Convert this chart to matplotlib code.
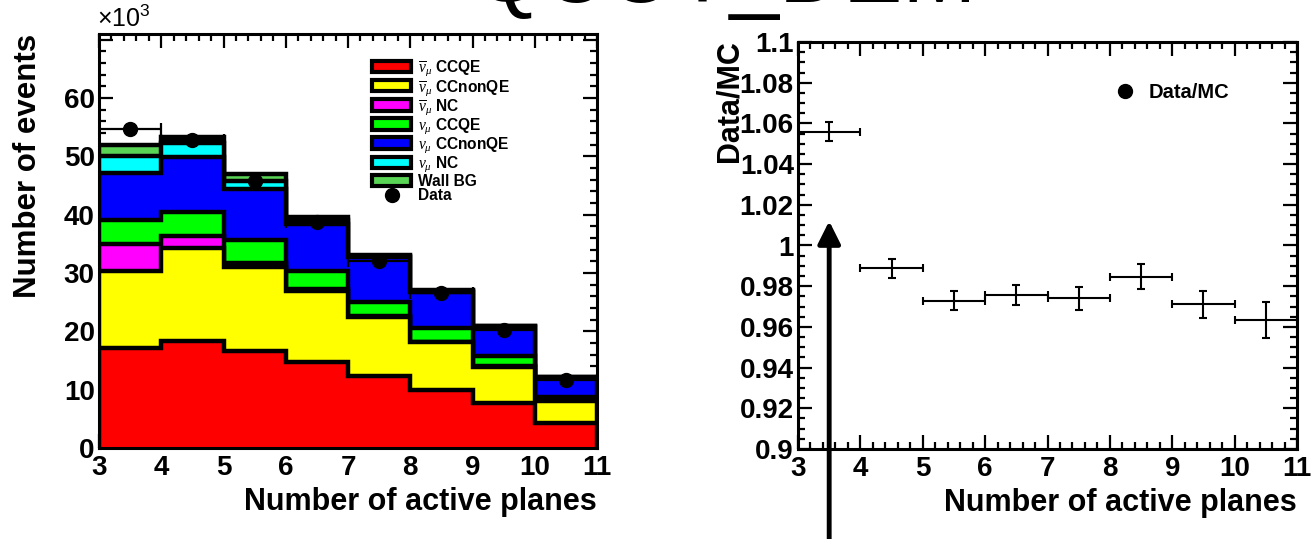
import numpy as np
import matplotlib
matplotlib.use("Agg")
import matplotlib.pyplot as plt
from matplotlib.patches import Patch
from matplotlib.lines import Line2D
from matplotlib.ticker import MultipleLocator, FixedLocator, FixedFormatter

plt.rcParams['font.family'] = ['Liberation Sans', 'DejaVu Sans']
plt.rcParams['mathtext.fontset'] = 'custom'
plt.rcParams['mathtext.rm'] = 'Liberation Sans'
plt.rcParams['mathtext.it'] = 'Liberation Serif:italic'
plt.rcParams['mathtext.bf'] = 'Liberation Sans:bold'

# ---------------- data ----------------
edges = [3, 4, 5, 6, 7, 8, 9, 10, 11]
centers = [3.5, 4.5, 5.5, 6.5, 7.5, 8.5, 9.5, 10.5]

# components in units of 10^3 events (stack order bottom -> top)
antinumu_ccqe = [17.2, 18.4, 16.7, 14.8, 12.35, 9.95, 7.65, 4.35]
antinumu_ccnonqe = [13.2, 15.9, 14.4, 12.2, 10.05, 8.15, 6.25, 3.65]
antinumu_nc = [4.6, 2.1, 0.7, 0.2, 0.2, 0.1, 0.1, 0.1]
numu_ccqe = [4.1, 4.1, 3.9, 3.2, 2.5, 2.4, 1.7, 0.7]
numu_ccnonqe = [8.1, 9.4, 8.8, 8.0, 7.7, 6.2, 5.0, 3.2]
numu_nc = [2.8, 2.4, 1.3, 0.7, 0.2, 0.2, 0.2, 0.1]
wall_bg = [1.9, 1.1, 1.2, 0.6, 0.1, 0.1, 0.1, 0.1]

data_counts = [54.7, 52.8, 45.8, 38.8, 32.1, 26.6, 20.2, 11.7]

ratio = [1.056, 0.9887, 0.9729, 0.9758, 0.9740, 0.9847, 0.9711, 0.9634]
ratio_err = [0.0045, 0.0045, 0.0047, 0.005, 0.0055, 0.006, 0.0067, 0.009]

left_yticks = [0, 10, 20, 30, 40, 50, 60, 70]
left_yticklabels = ['0', '10', '20', '30', '40', '50', '60', '']
right_yticks = [0.9, 0.92, 0.94, 0.96, 0.98, 1.0, 1.02, 1.04, 1.06, 1.08, 1.1]
right_yticklabels = ['0.9', '0.92', '0.94', '0.96', '0.98', '1', '1.02', '1.04',
                     '1.06', '1.08', '1.1']

labels = [r'$\overline{\nu}_{\mu}$ CCQE', r'$\overline{\nu}_{\mu}$ CCnonQE',
          r'$\overline{\nu}_{\mu}$ NC', r'$\nu_{\mu}$ CCQE',
          r'$\nu_{\mu}$ CCnonQE', r'$\nu_{\mu}$ NC', 'Wall BG']
colors = ['#ff0000', '#ffff00', '#ff00ff', '#00ff00', '#0000ff', '#00ffff', '#59d454']

components = [antinumu_ccqe, antinumu_ccnonqe, antinumu_nc, numu_ccqe,
              numu_ccnonqe, numu_nc, wall_bg]

# ---------------- figure ----------------
W, H = 1312, 539
fig = plt.figure(figsize=(W / 100, H / 100), dpi=100)

def px_axes(x0, x1, ytop, ybot):
    return fig.add_axes([x0 / W, 1 - ybot / H, (x1 - x0) / W, (ybot - ytop) / H])

ax1 = px_axes(99, 597, 34, 448)
ax2 = px_axes(798, 1297, 42, 449)

TICK_FS = 20

def style_axis(ax):
    for s in ax.spines.values():
        s.set_linewidth(2.2)
        s.set_zorder(10)
    ax.tick_params(which='both', direction='in', top=True, right=True,
                   labelsize=TICK_FS, width=1.6)
    ax.tick_params(which='major', length=10)
    ax.tick_params(axis='y', which='major', pad=3)
    ax.tick_params(axis='x', which='major', pad=5)
    ax.tick_params(which='minor', length=5)
    ax.xaxis.set_major_locator(MultipleLocator(1))
    ax.xaxis.set_minor_locator(MultipleLocator(0.2))
    for lab in ax.get_xticklabels() + ax.get_yticklabels():
        lab.set_fontweight('bold')

# ---------------- left: stacked histogram ----------------
cum = np.cumsum(np.array(components, dtype=float), axis=0)
for i in range(len(components) - 1, -1, -1):
    ax1.stairs(cum[i], edges, fill=True, baseline=0, facecolor=colors[i],
               edgecolor='black', linewidth=3.2, zorder=2)

ax1.errorbar(centers, data_counts, xerr=0.5, fmt='o', color='black',
             markersize=10, elinewidth=1.6, capsize=4, capthick=1.6, zorder=5)

ax1.set_xlim(3, 11)
ax1.set_ylim(0, 71)
ax1.yaxis.set_major_locator(FixedLocator(left_yticks))
ax1.yaxis.set_major_formatter(FixedFormatter(left_yticklabels))
ax1.yaxis.set_minor_locator(MultipleLocator(2))
style_axis(ax1)
ax1.set_ylabel('Number of events', fontsize=22.5, fontweight='bold', loc='top')
ax1.yaxis.set_label_coords(-0.112, 1.0)
ax1.set_xlabel('Number of active planes', fontsize=22, fontweight='bold', loc='right')
ax1.xaxis.set_label_coords(1.0, -0.095)
ax1.text(-0.005, 1.005, r'$\mathrm{\times10^{3}}$', transform=ax1.transAxes,
         fontsize=18, ha='left', va='bottom')

handles = [Patch(facecolor=c, edgecolor='black', linewidth=3) for c in colors]
handles.append(Line2D([], [], marker='o', color='black', linestyle='none', markersize=10))
leg1 = ax1.legend(handles, labels + ['Data'], loc='upper left',
                  bbox_to_anchor=(0.549, 0.94), frameon=False,
                  prop={'weight': 'bold', 'size': 11.2}, handlelength=2.5,
                  handleheight=0.75, labelspacing=-0.03, handletextpad=0.45,
                  borderpad=0, borderaxespad=0)
leg1.set_zorder(20)

# ---------------- right: ratio ----------------
ax2.errorbar(centers, ratio, xerr=0.5, yerr=ratio_err, fmt='none', ecolor='black',
             elinewidth=1.5, capsize=3, capthick=1.5, zorder=5)
ax2.set_xlim(3, 11)
ax2.set_ylim(0.9, 1.1)
ax2.yaxis.set_major_locator(FixedLocator(right_yticks))
ax2.yaxis.set_major_formatter(FixedFormatter(right_yticklabels))
ax2.yaxis.set_minor_locator(MultipleLocator(0.005))
style_axis(ax2)
ax2.set_ylabel('Data/MC', fontsize=22, fontweight='bold', loc='top')
ax2.yaxis.set_label_coords(-0.108, 1.005)
ax2.set_xlabel('Number of active planes', fontsize=22, fontweight='bold', loc='right')
ax2.xaxis.set_label_coords(1.0, -0.097)

leg2 = ax2.legend([Line2D([], [], marker='o', color='black', linestyle='none', markersize=10)],
                  ['Data/MC'], loc='center left', bbox_to_anchor=(0.641, 0.877),
                  frameon=False, prop={'weight': 'bold', 'size': 14.5},
                  handlelength=0.72, handletextpad=0.8, borderpad=0, borderaxespad=0)

ax2.annotate('', xy=(3.5, 1.012), xytext=(3.5, 0.85),
             arrowprops=dict(arrowstyle='-|>', lw=3.5, color='black', mutation_scale=34,
                             shrinkA=0, shrinkB=0),
             annotation_clip=False, zorder=15)

# partially visible title at the very top
fig.text(0.553, 1 - 2 / H, 'QCOT_DEM', ha='center', va='baseline', fontsize=64)

fig.savefig('out.png', dpi=100)
